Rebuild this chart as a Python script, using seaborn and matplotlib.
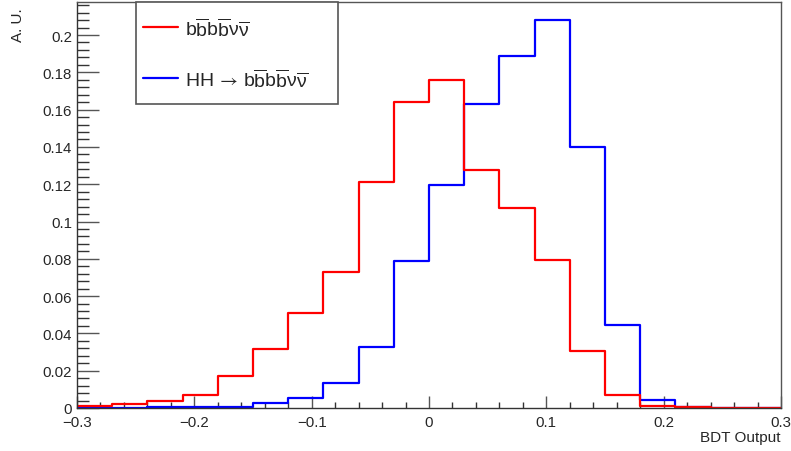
import numpy as np
import pandas as pd
import matplotlib
matplotlib.use("Agg")
import matplotlib.pyplot as plt
from matplotlib.lines import Line2D
from matplotlib.patches import Rectangle
from matplotlib.ticker import MultipleLocator, FuncFormatter
import seaborn as sns

# BDT output binning: 20 bins on [-0.3, 0.3]
bin_low = -0.3
bin_high = 0.3
n_bins = 20

# Normalised yields per bin (arbitrary units)
background = [0.0012, 0.0021, 0.0038, 0.0070, 0.0173, 0.0315, 0.0511, 0.0728,
              0.1212, 0.1641, 0.1759, 0.1276, 0.1074, 0.0795, 0.0307, 0.0071,
              0.0012, 0.0004, 0.0001, 0.0]
signal = [0.0002, 0.0002, 0.0003, 0.0003, 0.0005, 0.0025, 0.0054, 0.0134,
          0.0329, 0.0787, 0.1194, 0.1630, 0.1889, 0.2079, 0.1401, 0.0445,
          0.0045, 0.0005, 0.0, 0.0]

labels = [r"$\mathrm{b\overline{b}b\overline{b}}\nu\overline{\nu}$",
          r"HH$\,\mathsf{\rightarrow}\,\mathrm{b\overline{b}b\overline{b}}\nu\overline{\nu}$"]
colors = ["#ff0000", "#0000ff"]

edges = np.linspace(bin_low, bin_high, n_bins + 1)
centers = 0.5 * (edges[:-1] + edges[1:])

df = pd.DataFrame({
    "bdt": np.concatenate([centers, centers]),
    "w": np.concatenate([background, signal]),
    "sample": ["bkg"] * n_bins + ["sig"] * n_bins,
})

sns.set_theme(style="ticks")
plt.rcParams["font.family"] = ["Liberation Sans", "DejaVu Sans"]
plt.rcParams["mathtext.fontset"] = "custom"
plt.rcParams["mathtext.rm"] = "Liberation Sans"
plt.rcParams["mathtext.it"] = "Liberation Sans"
plt.rcParams["mathtext.bf"] = "Liberation Sans:bold"
plt.rcParams["mathtext.sf"] = "STIXGeneral"
plt.rcParams["axes.unicode_minus"] = True

W, H = 791, 452
fig = plt.figure(figsize=(W / 100, H / 100), dpi=100)
ax = fig.add_axes([77 / W, 1 - 409 / H, (781 - 77) / W, (409 - 3) / H])

# signal first so the background outline sits on top
for name, col in [("sig", colors[1]), ("bkg", colors[0])]:
    sub = df[df["sample"] == name]
    sns.histplot(data=sub, x="bdt", weights="w", bins=n_bins,
                 binrange=(bin_low, bin_high), element="step",
                 fill=False, color=col, linewidth=1.6, ax=ax)

ax.set_xlim(bin_low, bin_high)
ax.set_ylim(0, 0.2177)
ax.set_xlabel("")
ax.set_ylabel("")

ax.xaxis.set_major_locator(MultipleLocator(0.1))
ax.xaxis.set_minor_locator(MultipleLocator(0.02))
ax.yaxis.set_major_locator(MultipleLocator(0.02))
ax.yaxis.set_minor_locator(MultipleLocator(0.004))

def fmt(v, _):
    if abs(v) < 1e-9:
        return "0"
    return ("%g" % round(v, 3)).replace("-", "\u2212")

ax.xaxis.set_major_formatter(FuncFormatter(fmt))
ax.yaxis.set_major_formatter(FuncFormatter(fmt))

ax.tick_params(axis="y", which="major", direction="in", length=15.8, width=1,
               color="#555555", labelsize=10.8, pad=3.6, right=False)
ax.tick_params(axis="y", which="minor", direction="in", length=8.6, width=1,
               color="#333333", right=False)
ax.tick_params(axis="x", which="major", direction="in", length=8.6, width=1,
               color="#555555", labelsize=10.8, pad=5.0, top=False)
ax.tick_params(axis="x", which="minor", direction="in", length=4.3, width=1,
               color="#333333", top=False)

for side in ["left", "bottom", "top", "right"]:
    ax.spines[side].set_visible(True)
    ax.spines[side].set_color("#333333")
    ax.spines[side].set_linewidth(1.0)
ax.spines["top"].set_color("#555555")
ax.spines["right"].set_color("#555555")

fig.text(781 / W, 1 - 438 / H, "BDT Output", ha="right", va="center",
         fontsize=11)
fig.text(18 / W, 1 - 8 / H, "A. U.", rotation=90, ha="center", va="top",
         fontsize=11)

# legend box
fig.add_artist(Rectangle((136 / W, 1 - 105 / H), (338 - 136) / W, (105 - 3) / H,
                         transform=fig.transFigure, facecolor="white",
                         edgecolor="#555555", linewidth=1.2, zorder=5))
for yy, col, lab in [(28, colors[0], labels[0]), (79, colors[1], labels[1])]:
    fig.add_artist(Line2D([143 / W, 178 / W], [1 - yy / H, 1 - yy / H],
                          transform=fig.transFigure, color=col, linewidth=1.6,
                          zorder=6))
    fig.text(185 / W, 1 - (yy + 1) / H, lab, ha="left", va="center",
             fontsize=14, zorder=7)

fig.savefig("out.png", dpi=100)
